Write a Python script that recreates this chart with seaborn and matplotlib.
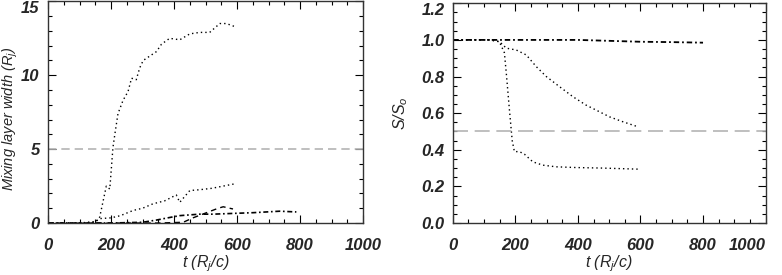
import numpy as np
import pandas as pd
import matplotlib
matplotlib.use("Agg")
import matplotlib.pyplot as plt
from matplotlib.ticker import MultipleLocator
import seaborn as sns

# ---- left panel: mixing layer width ----
t_a = [0, 100, 150, 164, 185, 196, 206, 212, 222, 238, 254, 265, 280, 291, 302, 323, 344, 360, 386, 418, 450, 481, 513, 529, 545, 566, 592]
w_a = [0, 0, 0.05, 0.4, 2.5, 2.3, 5.1, 6.0, 7.4, 8.3, 8.9, 9.8, 9.7, 10.5, 11.0, 11.3, 11.6, 12.1, 12.5, 12.4, 12.8, 12.9, 12.9, 13.2, 13.5, 13.5, 13.3]
t_b = [0, 100, 150, 165, 200, 230, 270, 300, 333, 370, 407, 418, 450, 480, 520, 556, 592]
w_b = [0, 0, 0.1, 0.3, 0.35, 0.5, 0.85, 1.0, 1.3, 1.5, 1.9, 1.4, 2.2, 2.25, 2.35, 2.5, 2.65]
t_c = [0, 200, 300, 344, 380, 418, 481, 524, 587, 651, 735, 788]
w_c = [0, 0, 0.05, 0.2, 0.35, 0.5, 0.6, 0.6, 0.65, 0.7, 0.8, 0.75]
t_d = [0, 200, 350, 429, 460, 503, 540, 556, 587]
w_d = [0, 0, 0, 0.05, 0.35, 0.7, 1.0, 1.1, 0.95]

# ---- right panel: S/S0 ----
t_e = [0, 200, 400, 500, 600, 700, 800]
s_e = [1.0, 1.0, 1.0, 0.995, 0.99, 0.988, 0.985]
t_f = [0, 120, 150, 171, 203, 235, 267, 299, 341, 384, 426, 458, 501, 544, 586]
s_f = [1.0, 1.0, 0.99, 0.955, 0.945, 0.918, 0.854, 0.80, 0.745, 0.69, 0.644, 0.617, 0.58, 0.553, 0.529]
t_g = [0, 120, 149, 165, 171, 181, 190, 197, 213, 229, 256, 288, 330, 394, 480, 597]
s_g = [1.0, 1.0, 0.99, 0.93, 0.82, 0.62, 0.45, 0.39, 0.39, 0.376, 0.334, 0.316, 0.307, 0.303, 0.30, 0.294]

sns.set_style("ticks")
plt.rcParams["font.family"] = ["Liberation Sans", "DejaVu Sans"]
plt.rcParams["mathtext.fontset"] = "custom"
plt.rcParams["mathtext.it"] = "Liberation Sans:italic"
plt.rcParams["mathtext.rm"] = "Liberation Sans:italic"
plt.rcParams["mathtext.default"] = "it"

fig = plt.figure(figsize=(7.82, 2.75), dpi=100)
ax1 = fig.add_axes([0.0614, 0.189, 0.403, 0.806])
ax2 = fig.add_axes([0.579, 0.189, 0.400, 0.799])

dot = (1, 2.2)
dashdot = (3, 1.6, 1, 1.6)
dash = (4, 3)
gray = "#b4b4b4"

def draw(ax, t, v, dashes, lw=1.0):
    df = pd.DataFrame({"t": t, "v": v})
    l = sns.lineplot(data=df, x="t", y="v", ax=ax, color="black", lw=lw)
    l.lines[-1].set_dashes(dashes)

draw(ax1, t_a, w_a, dot)
draw(ax1, t_b, w_b, dot)
draw(ax1, t_c, w_c, dashdot, 1.2)
draw(ax1, t_d, w_d, dash)
ax1.axhline(5, color=gray, lw=1.2, dashes=(5, 3))

draw(ax2, t_e, s_e, dashdot, 1.3)
draw(ax2, t_f, s_f, dot)
draw(ax2, t_g, s_g, dot)
ax2.axhline(0.5, color=gray, lw=1.2, dashes=(9, 4))

ax1.set_xlim(0, 1000)
ax1.set_ylim(0, 15)
ax1.yaxis.set_major_locator(MultipleLocator(5))
ax1.yaxis.set_minor_locator(MultipleLocator(1))
ax2.set_xlim(0, 1000)
ax2.set_ylim(0, 1.2)
ax2.yaxis.set_major_locator(MultipleLocator(0.2))
ax2.yaxis.set_minor_locator(MultipleLocator(0.05))
ax2.yaxis.set_major_formatter(plt.FormatStrFormatter("%.1f"))

for ax in (ax1, ax2):
    ax.xaxis.set_major_locator(MultipleLocator(200))
    ax.xaxis.set_minor_locator(MultipleLocator(50))
    ax.tick_params(which="both", direction="in", top=True, right=True, color="black", width=0.8)
    ax.tick_params(which="major", length=6)
    ax.tick_params(which="minor", length=3)
    ax.tick_params(axis="x", pad=11)
    ax.tick_params(axis="y", pad=6)
    for s in ax.spines.values():
        s.set_color("#333333")
        s.set_linewidth(1.0)
    for lab in ax.get_xticklabels() + ax.get_yticklabels():
        lab.set_fontsize(12)
        lab.set_fontweight("bold")
        lab.set_fontstyle("italic")
    # top y label sits just under the frame edge
    top = ax.get_ylim()[1]
    for tick, loc in zip(ax.yaxis.get_major_ticks(), ax.yaxis.get_majorticklocs()):
        if abs(loc - top) < 1e-6:
            tick.label1.set_va("top")
    ax.set_xlabel("t (R$_j$/c)", fontsize=11.5, fontstyle="italic", labelpad=0)

# last x label of the right panel is pulled inside the figure
for tick, loc in zip(ax2.xaxis.get_major_ticks(), ax2.xaxis.get_majorticklocs()):
    if abs(loc - 1000) < 1e-6:
        tick.label1.set_ha("right")

ax1.set_ylabel("Mixing layer width (R$_j$)", fontsize=10.5, fontstyle="italic")
ax1.yaxis.set_label_coords(-0.09, 0.47)
ax2.set_ylabel("S/S$_o$", fontsize=11.5, fontstyle="italic")
ax2.yaxis.set_label_coords(-0.137, 0.5)

fig.savefig("out.png", dpi=100)
